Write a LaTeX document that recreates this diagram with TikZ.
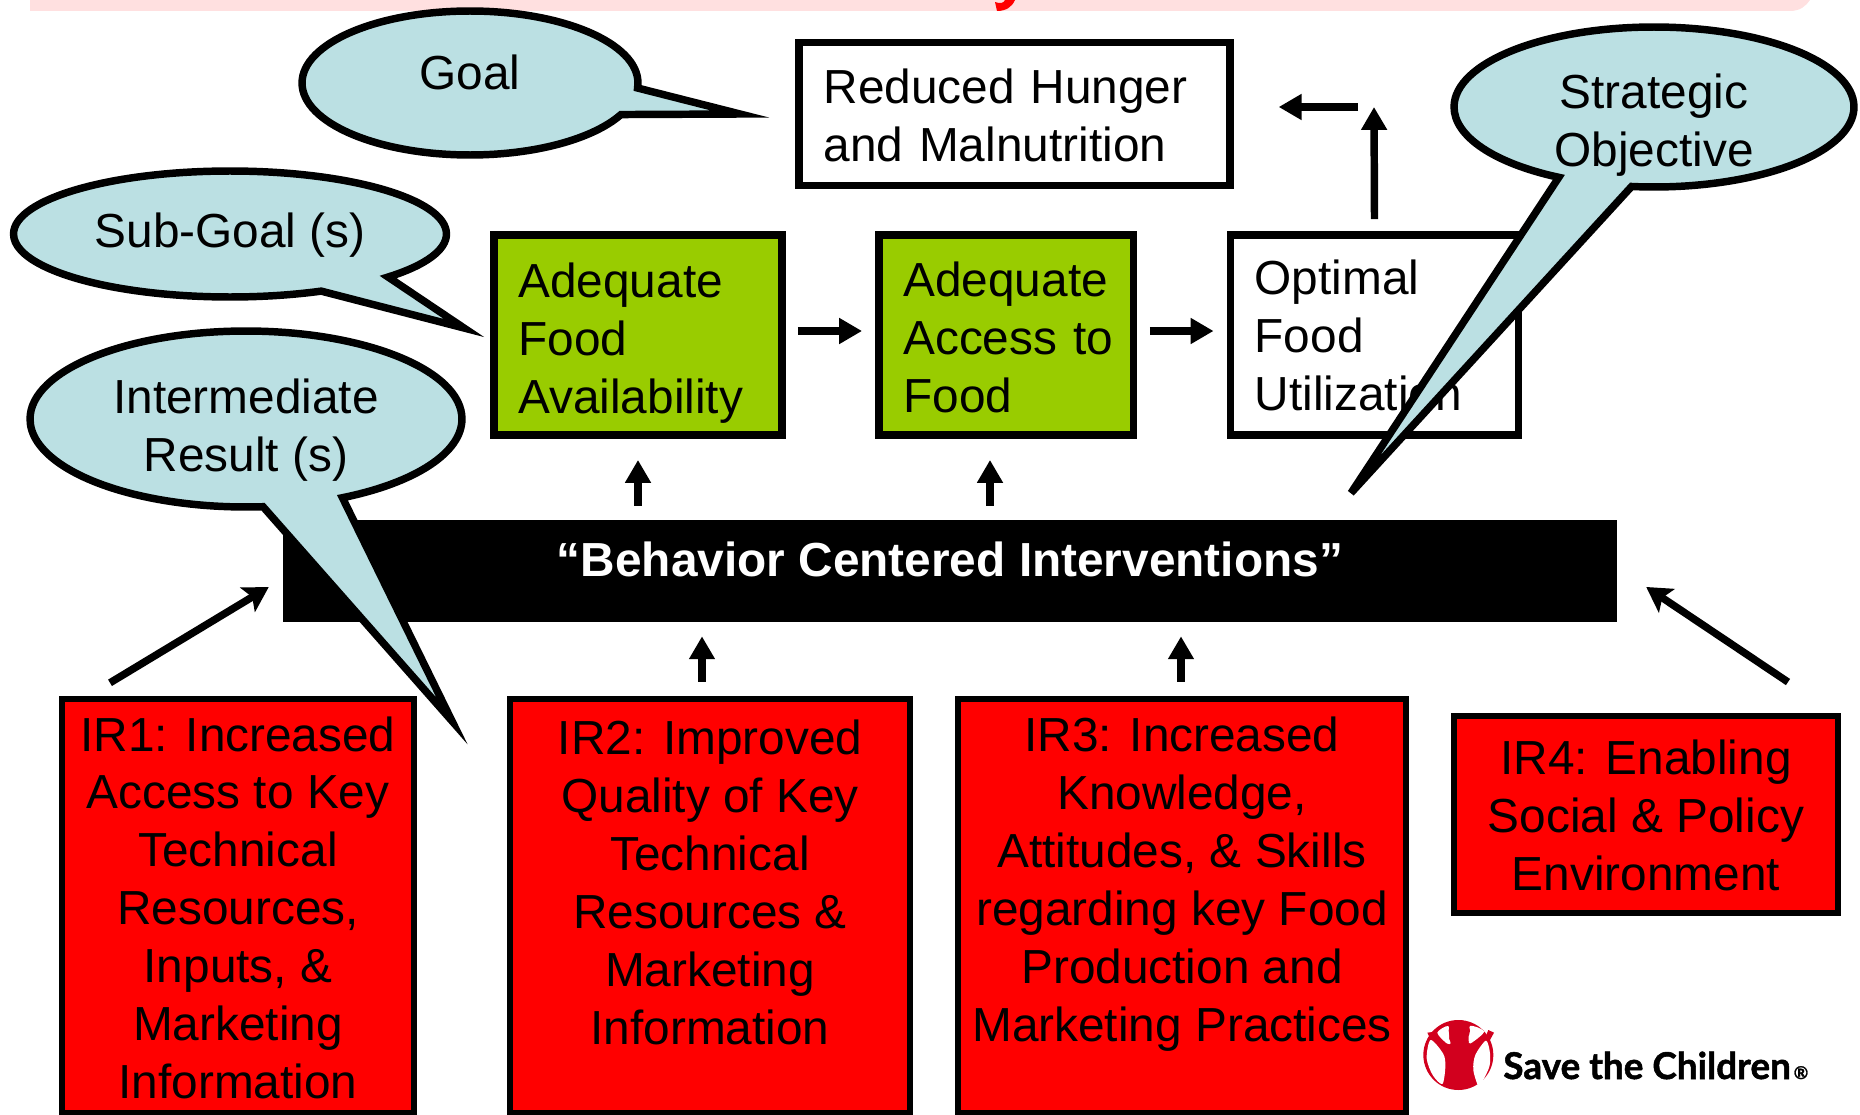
\documentclass[tikz,border=0pt]{standalone}
\usepackage{fontspec}
\setmainfont{Liberation Sans}
\newfontfamily\logofont{Lato}[BoldFeatures={FakeBold=1.4}]
\usetikzlibrary{shapes.callouts,arrows.meta}
\definecolor{bubblecyan}{HTML}{BBE0E3}
\definecolor{subgoalgreen}{HTML}{99CC00}
\definecolor{bannerpink}{HTML}{FFE0E0}
\definecolor{logored}{HTML}{D2001E}
\newcommand{\shifttext}[2]{\raisebox{\dimexpr#1-9.4pt\relax}[0pt][0pt]{\begin{tabular}{@{}c@{}}#2\end{tabular}}}
\tikzset{
  slidetext/.style={font=\fontsize{27.2}{33}\selectfont},
  leftbox/.style={draw,line width=4.25pt,slidetext,align=left,inner xsep=.49cm,inner ysep=0pt,text width=#1},
  redbox/.style={draw,fill=red,line width=3.4pt,slidetext,inner sep=0pt},
  bubble/.style={ellipse callout,draw,fill=bubblecyan,line width=4.25pt,slidetext,inner sep=0pt,callout pointer arc=22},
  flow/.style={line width=4.25pt,-{Triangle[length=13pt,width=14pt]}},
  slantflow/.style={line width=4.25pt,-{Stealth[length=14pt,width=16pt,inset=3pt]}}
}
\begin{document}
\begin{tikzpicture}[x=0.02cm,y=-0.02cm]
  \useasboundingbox (0,0) rectangle (1860,1115);
  \fill[bannerpink] (30,0) -- (30,11) -- (1790,11) .. controls (1800,11) and (1806,6) .. (1810,0) -- cycle;
  \fill[red] (995,2) -- (997,11) .. controls (1006,11) and (1012,7) .. (1015,0) -- (1005,0) .. controls (1004,3) and (1000,4) .. (995,2) -- cycle;

  \node[leftbox=7.64cm,minimum width=8.62cm,minimum height=2.85cm] (hunger) at (1014.5,114) {\rule{0pt}{21pt}Reduced Hunger\\and Malnutrition};
  \node[leftbox=4.79cm,fill=subgoalgreen,minimum width=5.77cm,minimum height=4.01cm] (avail) at (638,335) {\rule{0pt}{28.6pt}Adequate\\Food\\Availability};
  \node[leftbox=4.11cm,fill=subgoalgreen,minimum width=5.09cm,minimum height=4.01cm] (access) at (1006,335) {\rule{0pt}{22pt}Adequate\\Access~to\\Food};
  \node[leftbox=4.79cm,minimum width=5.77cm,minimum height=4.01cm] (util) at (1374.5,335) {\rule{0pt}{20.6pt}Optimal\\Food\\Utilization};
  \node[fill=black,text=white,slidetext,inner sep=0pt,minimum width=26.68cm,minimum height=2.04cm] (bar) at (950,571) {\shifttext{6.8pt}{\bfseries “Behavior Centered Interventions”}};

  \node[redbox,minimum width=7.04cm,minimum height=8.29cm] (ir1) at (238,906) {\shifttext{-1pt}{IR1: Increased\\Access to Key\\Technical\\Resources,\\Inputs, \&\\Marketing\\Information}};
  \node[redbox,minimum width=8.0cm,minimum height=8.29cm] (ir2) at (710,906) {\shifttext{13.4pt}{IR2: Improved\\Quality of Key\\Technical\\Resources \&\\Marketing\\Information}};
  \node[redbox,minimum width=8.96cm,minimum height=8.29cm] (ir3) at (1182,906) {\shifttext{15pt}{IR3: Increased\\Knowledge,\\Attitudes, \& Skills\\regarding key Food\\Production and\\Marketing Practices}};
  \node[redbox,minimum width=7.68cm,minimum height=3.94cm] (ir4) at (1646,814.5) {\shifttext{-.3pt}{IR4: Enabling\\Social \& Policy\\Environment}};

  \coordinate (turn) at (1374,107);
  \draw[flow] ([shift={(0,-12)}]util.north) -- (turn);
  \draw[flow] ([shift={(-16,0)}]turn) -- ([shift={(45,-7)}]hunger.east);
  \draw[flow] ([shift={(12,-4)}]avail.east) -- ([shift={(-13,-4)}]access.west);
  \draw[flow] ([shift={(13,-4)}]access.east) -- ([shift={(-13,-4)}]util.west);
  \draw[flow] ([shift={(-312,-14)}]bar.north) -- ([shift={(0,21)}]avail.south);
  \draw[flow] ([shift={(40,-14)}]bar.north) -- ([shift={(-16,21)}]access.south);
  \draw[flow] ([shift={(-8,-14)}]ir2.north) -- ([shift={(-248,14)}]bar.south);
  \draw[flow] ([shift={(-1,-14)}]ir3.north) -- ([shift={(231,14)}]bar.south);
  \draw[slantflow] ([shift={(-128,-13)}]ir1.north) -- ([shift={(-14,16)}]bar.west);
  \draw[slantflow] ([shift={(142,-31)}]ir4.north) -- ([shift={(29,16)}]bar.east);

  \node[bubble,minimum width=6.72cm,minimum height=2.88cm,callout absolute pointer={(740,114)}] (goal) at (470,83) {\shifttext{6pt}{Goal}};
  \node[bubble,minimum width=8.66cm,minimum height=2.52cm,callout absolute pointer={(464,328)}] (subgoal) at (230,234) {\shifttext{2.3pt}{Sub-Goal (s)}};
  \node[bubble,minimum width=8.64cm,minimum height=3.52cm,callout absolute pointer={(452,721)}] (result) at (246,419) {\shifttext{-3.4pt}{Intermediate\\Result (s)}};
  \node[bubble,minimum width=8.0cm,minimum height=3.2cm,callout absolute pointer={(1351,493)}] (objective) at (1654,107) {\shifttext{-7.4pt}{Strategic\\Objective}};

  \begin{scope}[shift={(1410,1010)},x=0.00667cm,y=-0.00667cm]
    \fill[logored] (145,135) circle (105);
    \fill[logored] (52,68) -- (75,65) -- (85,85) -- (60,85) -- cycle;
    \fill[logored] (235,60) -- (252,68) -- (240,90) -- (225,85) -- cycle;
    \fill[white] plot[smooth cycle] coordinates {(62,90) (100,132) (106,170) (97,222) (68,195) (50,145)};
    \fill[white] plot[smooth cycle] coordinates {(228,92) (196,135) (190,180) (205,228) (218,213) (238,170) (240,130)};
    \fill[white] plot[smooth cycle] coordinates {(82,68) (115,48) (117,85) (122,100) (110,100)};
    \fill[white] plot[smooth cycle] coordinates {(180,48) (222,65) (182,100) (176,90)};
    \fill[white] (205,232) -- (222,212) -- (232,216) -- (212,244) -- cycle;
    \fill[logored] (148,62) circle (32);
  \end{scope}
  \node[anchor=base west,inner sep=0pt,font=\logofont\fontsize{21}{24}\selectfont\bfseries] (savechildren) at (1503,1079) {Save the Children{\fontsize{10}{10}\selectfont\,®}};
\end{tikzpicture}
\end{document}
